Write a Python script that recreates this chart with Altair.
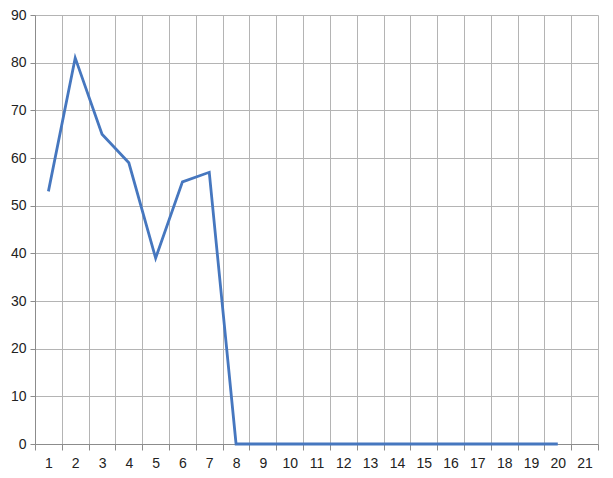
import altair as alt
import pandas as pd

categories = list(range(1, 22))
x_vals = list(range(1, 21))
y_vals = [53, 81, 65, 59, 39, 55, 57, 0, 0, 0, 0, 0, 0, 0, 0, 0, 0, 0, 0, 0]

df = pd.DataFrame({"x": x_vals, "y": y_vals})

chart = alt.Chart(df).mark_line(color="#4677BF", strokeWidth=2.8).encode(
    x=alt.X("x:O",
            scale=alt.Scale(type="band", domain=categories, paddingInner=0, paddingOuter=0),
            axis=alt.Axis(title=None, labelAngle=0, tickBand="extent", grid=True,
                          gridColor="#b4b4b4", domainColor="#8c8c8c", tickColor="#8c8c8c",
                          tickSize=6, labelPadding=6, labelFont="Liberation Sans",
                          labelFontSize=14, labelColor="#222222")),
    y=alt.Y("y:Q",
            scale=alt.Scale(domain=[0, 90], nice=False),
            axis=alt.Axis(title=None, values=list(range(0, 91, 10)), grid=True,
                          gridColor="#b4b4b4", domainColor="#8c8c8c", tickColor="#8c8c8c",
                          tickSize=5, labelPadding=4, labelFont="Liberation Sans",
                          labelFontSize=14, labelColor="#222222")),
).properties(
    width=563, height=429,
    autosize=alt.AutoSizeParams(type="none"),
    padding={"left": 27, "top": 7, "right": 7, "bottom": 26},
    background="white",
).configure_view(stroke=None)

chart.save("out.html", embed_options={"renderer": "svg", "actions": False})
